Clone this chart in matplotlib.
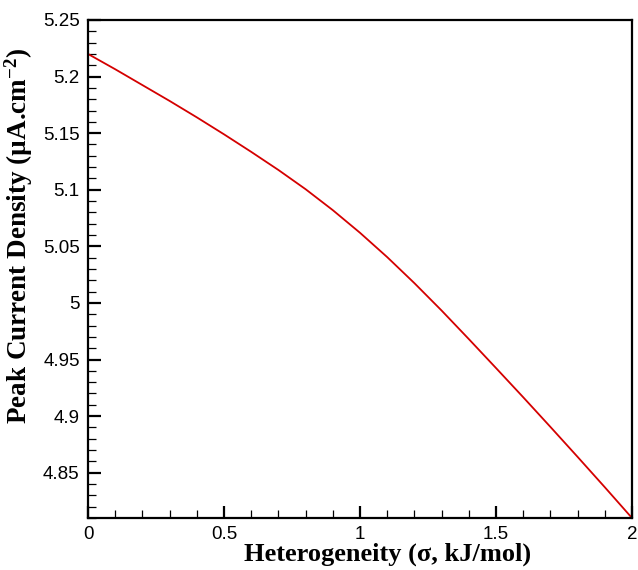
import matplotlib
matplotlib.use("Agg")
import matplotlib.pyplot as plt
from matplotlib.ticker import MultipleLocator, FuncFormatter

# Peak current density vs. surface heterogeneity
sigma = [0.0, 0.1, 0.2, 0.3, 0.4, 0.5, 0.6, 0.7, 0.8, 0.9, 1.0,
         1.1, 1.2, 1.3, 1.4, 1.5, 1.6, 1.7, 1.8, 1.9, 2.0]
peak_current = [5.2200, 5.2065, 5.1925, 5.1785, 5.1640, 5.1490, 5.1335,
                5.1175, 5.1005, 5.0820, 5.0620, 5.0405, 5.0175, 4.9933,
                4.9681, 4.9425, 4.9167, 4.8905, 4.8640, 4.8372, 4.8100]

x_ticks = [0, 0.5, 1, 1.5, 2]
y_ticks = [4.85, 4.9, 4.95, 5.0, 5.05, 5.1, 5.15, 5.2, 5.25]

plt.rcParams["mathtext.fontset"] = "custom"
plt.rcParams["mathtext.rm"] = "Liberation Serif:bold"
plt.rcParams["mathtext.it"] = "Liberation Serif:bold"
plt.rcParams["mathtext.bf"] = "Liberation Serif:bold"

fig = plt.figure(figsize=(6.38, 5.70), dpi=100)
ax = fig.add_axes([88 / 638, 1 - 518 / 570, 544 / 638, 498 / 570])

ax.plot(sigma, peak_current, color="#d40000", linewidth=1.3)

ax.set_xlim(0, 2)
ax.set_ylim(4.81, 5.25)
ax.set_xticks(x_ticks)
ax.set_yticks(y_ticks)
ax.xaxis.set_minor_locator(MultipleLocator(0.1))
ax.yaxis.set_minor_locator(MultipleLocator(0.01))


def trim(v, pos):
    return f"{v:g}"


ax.xaxis.set_major_formatter(FuncFormatter(trim))
ax.yaxis.set_major_formatter(FuncFormatter(trim))

for s in ax.spines.values():
    s.set_linewidth(1.6)

ax.tick_params(which="both", direction="in", top=False, right=False)
ax.tick_params(which="major", length=9, width=1.6, pad=6,
               labelsize=13.5, labelfontfamily="Liberation Sans")
ax.tick_params(which="minor", length=5.5, width=0.9)

ax.set_xlabel("Heterogeneity (σ, kJ/mol)", family="Liberation Serif",
              fontweight="bold", fontsize=19)
ax.set_ylabel(r"Peak Current Density (µA.cm$^{-2}$)", family="Liberation Serif",
              fontweight="bold", fontsize=19.5)
ax.xaxis.set_label_coords(0.55, -0.05)
ax.yaxis.set_label_coords(-0.097, 0.566)

fig.savefig("out.png", dpi=100)
